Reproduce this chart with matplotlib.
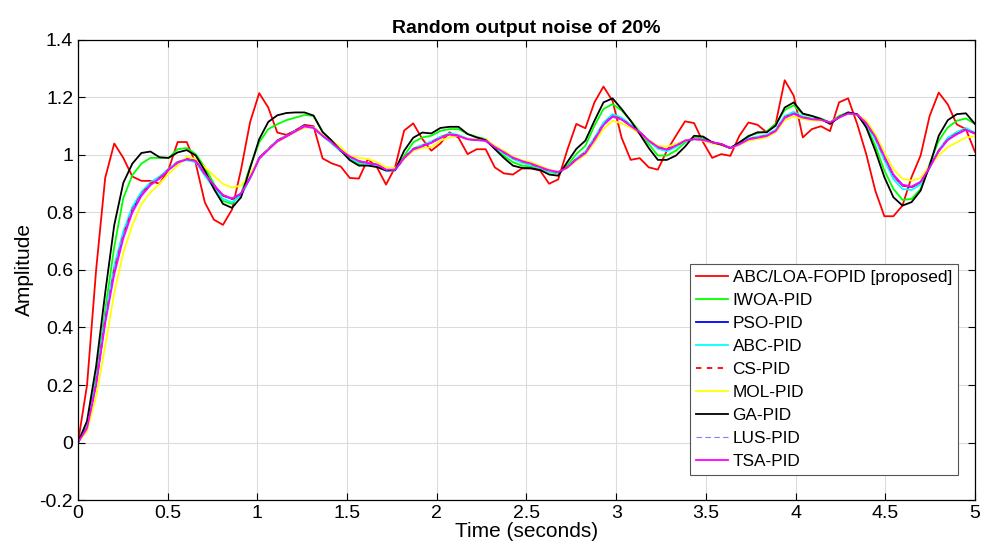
import numpy as np
import matplotlib
matplotlib.use("Agg")
import matplotlib.pyplot as plt

plt.rcParams['font.family'] = ['Liberation Sans', 'DejaVu Sans']

# ---------------- data (100 samples from 0 to 5 s) ----------------
t = np.linspace(0, 5, 100)

abc_loa_fopid = [0, 0.2, 0.6, 0.92, 1.04, 0.99, 0.925, 0.91, 0.91, 0.90,
                 0.95, 1.045, 1.045, 0.97, 0.835, 0.775, 0.757, 0.81, 0.95, 1.115,
                 1.215, 1.165, 1.078, 1.07, 1.085, 1.105, 1.1, 0.988, 0.971, 0.96,
                 0.92, 0.918, 0.986, 0.957, 0.897, 0.957, 1.085, 1.11, 1.056, 1.015,
                 1.04, 1.079, 1.06, 1.003, 1.02, 1.02, 0.957, 0.936, 0.932, 0.953,
                 0.953, 0.946, 0.90, 0.915, 1.017, 1.108, 1.093, 1.183, 1.238, 1.188,
                 1.06, 0.983, 0.989, 0.957, 0.949, 1.015, 1.067, 1.117, 1.111, 1.044,
                 0.99, 1.003, 0.997, 1.067, 1.113, 1.105, 1.079, 1.108, 1.26, 1.206,
                 1.061, 1.09, 1.1, 1.083, 1.183, 1.197, 1.108, 1.003, 0.876, 0.787,
                 0.787, 0.824, 0.923, 0.998, 1.136, 1.217, 1.176, 1.106, 1.09, 1.011]

iwoa_pid = [0, 0.058, 0.23, 0.46, 0.68, 0.85, 0.93, 0.97, 0.99, 0.99,
            0.99, 1.02, 1.024, 1.003, 0.957, 0.9, 0.84, 0.83, 0.865, 0.96,
            1.044, 1.09, 1.107, 1.121, 1.13, 1.139, 1.136, 1.079, 1.05, 1.017,
            0.985, 0.968, 0.966, 0.96, 0.946, 0.948, 0.997, 1.044, 1.061, 1.067,
            1.084, 1.09, 1.09, 1.073, 1.063, 1.055, 1.027, 0.997, 0.975, 0.963,
            0.96, 0.955, 0.94, 0.936, 0.963, 1.003, 1.032, 1.102, 1.16, 1.177,
            1.155, 1.12, 1.081, 1.038, 0.998, 0.998, 1.015, 1.044, 1.061, 1.058,
            1.044, 1.036, 1.024, 1.042, 1.067, 1.076, 1.081, 1.108, 1.156, 1.173,
            1.142, 1.135, 1.127, 1.113, 1.136, 1.148, 1.139, 1.102, 1.032, 0.946,
            0.882, 0.844, 0.847, 0.882, 0.969, 1.05, 1.096, 1.119, 1.127, 1.108]

pso_pid = [0, 0.052, 0.207, 0.427, 0.6, 0.72, 0.81, 0.865, 0.9, 0.92,
           0.95, 0.975, 0.986, 0.98, 0.934, 0.894, 0.859, 0.847, 0.865, 0.922,
           0.99, 1.021, 1.05, 1.067, 1.085, 1.102, 1.096, 1.067, 1.044, 1.015,
           0.994, 0.978, 0.971, 0.966, 0.948, 0.948, 0.99, 1.021, 1.032, 1.044,
           1.061, 1.073, 1.067, 1.055, 1.052, 1.05, 1.027, 1.009, 0.99, 0.978,
           0.969, 0.957, 0.946, 0.94, 0.957, 0.986, 1.009, 1.055, 1.108, 1.136,
           1.125, 1.102, 1.079, 1.05, 1.027, 1.018, 1.032, 1.05, 1.055, 1.052,
           1.044, 1.038, 1.024, 1.038, 1.055, 1.061, 1.067, 1.084, 1.131, 1.145,
           1.131, 1.125, 1.123, 1.113, 1.131, 1.145, 1.142, 1.11, 1.061, 0.992,
           0.928, 0.894, 0.888, 0.905, 0.957, 1.015, 1.055, 1.075, 1.09, 1.075]

abc_pid = [0, 0.056, 0.215, 0.44, 0.615, 0.735, 0.82, 0.872, 0.905, 0.925,
           0.952, 0.975, 0.982, 0.975, 0.928, 0.885, 0.848, 0.836, 0.858, 0.918,
           0.985, 1.02, 1.048, 1.066, 1.084, 1.1, 1.094, 1.065, 1.04, 1.012,
           0.99, 0.974, 0.967, 0.962, 0.945, 0.946, 0.99, 1.023, 1.035, 1.047,
           1.064, 1.075, 1.07, 1.057, 1.052, 1.05, 1.025, 1.005, 0.986, 0.973,
           0.965, 0.953, 0.942, 0.937, 0.957, 0.988, 1.012, 1.06, 1.113, 1.142,
           1.13, 1.105, 1.079, 1.048, 1.022, 1.013, 1.028, 1.049, 1.056, 1.053,
           1.044, 1.037, 1.024, 1.04, 1.058, 1.064, 1.07, 1.088, 1.136, 1.15,
           1.134, 1.127, 1.123, 1.112, 1.132, 1.146, 1.142, 1.108, 1.054, 0.982,
           0.916, 0.882, 0.878, 0.898, 0.955, 1.018, 1.06, 1.08, 1.094, 1.078]

cs_pid = pso_pid

mol_pid = [0, 0.04, 0.16, 0.335, 0.52, 0.66, 0.756, 0.83, 0.87, 0.9,
           0.935, 0.963, 0.994, 0.986, 0.957, 0.928, 0.9, 0.886, 0.894, 0.934,
           0.986, 1.02, 1.045, 1.063, 1.08, 1.095, 1.096, 1.07, 1.05, 1.027,
           0.997, 0.99, 0.986, 0.975, 0.957, 0.955, 0.986, 1.015, 1.024, 1.027,
           1.05, 1.061, 1.067, 1.055, 1.055, 1.055, 1.032, 1.015, 0.994, 0.982,
           0.975, 0.963, 0.949, 0.942, 0.954, 0.98, 1.001, 1.044, 1.09, 1.119,
           1.11, 1.096, 1.073, 1.052, 1.032, 1.029, 1.038, 1.05, 1.055, 1.05,
           1.04, 1.035, 1.024, 1.035, 1.05, 1.055, 1.061, 1.079, 1.121, 1.134,
           1.125, 1.12, 1.119, 1.113, 1.131, 1.145, 1.142, 1.119, 1.073, 1.009,
           0.951, 0.917, 0.911, 0.92, 0.963, 0.998, 1.027, 1.044, 1.061, 1.065]

ga_pid = [0, 0.075, 0.265, 0.52, 0.756, 0.903, 0.97, 1.007, 1.012, 0.992,
          0.99, 1.009, 1.017, 0.998, 0.946, 0.882, 0.83, 0.816, 0.853, 0.955,
          1.055, 1.115, 1.138, 1.146, 1.148, 1.148, 1.137, 1.08, 1.05, 1.016,
          0.982, 0.963, 0.963, 0.958, 0.946, 0.947, 1.015, 1.06, 1.078, 1.075,
          1.094, 1.098, 1.098, 1.073, 1.061, 1.052, 1.021, 0.99, 0.963, 0.955,
          0.954, 0.948, 0.932, 0.928, 0.975, 1.021, 1.05, 1.119, 1.183, 1.197,
          1.16, 1.119, 1.073, 1.024, 0.983, 0.983, 0.998, 1.029, 1.067, 1.064,
          1.044, 1.036, 1.024, 1.044, 1.065, 1.079, 1.079, 1.102, 1.165, 1.183,
          1.144, 1.136, 1.125, 1.108, 1.131, 1.148, 1.142, 1.096, 1.015, 0.923,
          0.853, 0.824, 0.836, 0.876, 0.963, 1.067, 1.121, 1.142, 1.145, 1.108]

lus_pid = pso_pid

tsa_pid = [0, 0.05, 0.2, 0.415, 0.585, 0.71, 0.8, 0.858, 0.895, 0.918,
           0.948, 0.973, 0.985, 0.979, 0.934, 0.895, 0.861, 0.849, 0.866, 0.92,
           0.987, 1.018, 1.047, 1.064, 1.082, 1.099, 1.094, 1.067, 1.044, 1.016,
           0.995, 0.979, 0.972, 0.967, 0.949, 0.949, 0.989, 1.019, 1.03, 1.042,
           1.059, 1.071, 1.066, 1.055, 1.052, 1.05, 1.028, 1.01, 0.991, 0.979,
           0.97, 0.958, 0.947, 0.941, 0.956, 0.984, 1.006, 1.052, 1.104, 1.133,
           1.123, 1.101, 1.079, 1.05, 1.028, 1.019, 1.033, 1.05, 1.055, 1.052,
           1.044, 1.038, 1.024, 1.037, 1.054, 1.06, 1.066, 1.083, 1.129, 1.143,
           1.13, 1.124, 1.122, 1.113, 1.13, 1.144, 1.141, 1.111, 1.063, 0.995,
           0.932, 0.897, 0.89, 0.907, 0.957, 1.013, 1.052, 1.072, 1.087, 1.074]

# ---------------- figure ----------------
fig = plt.figure(figsize=(9.86, 5.56), dpi=100)
ax = fig.add_axes([0.0791, 0.1007, 0.9097, 0.8274])

lw = 1.3
ax.plot(t, abc_loa_fopid, color='#FF0000', lw=lw, label='ABC/LOA-FOPID [proposed]')
ax.plot(t, iwoa_pid, color='#00FF00', lw=lw, label='IWOA-PID')
ax.plot(t, pso_pid, color='#0000FF', lw=lw, label='PSO-PID')
ax.plot(t, abc_pid, color='#00FFFF', lw=lw, label='ABC-PID')
ax.plot(t, cs_pid, color='#FF0000', lw=lw, ls=(0, (3, 3)), label='CS-PID')
ax.plot(t, mol_pid, color='#FFFF00', lw=lw, label='MOL-PID')
ax.plot(t, ga_pid, color='#000000', lw=lw, label='GA-PID')
ax.plot(t, lus_pid, color='#7F7FFF', lw=0.8, ls=(0, (5, 3)), label='LUS-PID')
ax.plot(t, tsa_pid, color='#FF00FF', lw=lw, label='TSA-PID')

ax.set_xlim(0, 5)
ax.set_ylim(-0.2, 1.4)
ax.set_xticks(np.arange(0, 5.01, 0.5))
ax.set_xticklabels(['0', '0.5', '1', '1.5', '2', '2.5', '3', '3.5', '4', '4.5', '5'])
ax.set_yticks(np.arange(-0.2, 1.41, 0.2))
ax.set_yticklabels(['-0.2', '0', '0.2', '0.4', '0.6', '0.8', '1', '1.2', '1.4'])
ax.tick_params(direction='in', top=True, right=True, labelsize=14, length=5, width=0.8)
ax.grid(True, color='#dcdcdc', lw=0.8)
for s in ax.spines.values():
    s.set_linewidth(0.9)

ax.set_title('Random output noise of 20%', fontsize=14, fontweight='bold', pad=5)
ax.set_xlabel('Time (seconds)', fontsize=15, labelpad=0)
ax.set_ylabel('Amplitude', fontsize=15, labelpad=4)

leg = ax.legend(loc='lower right', bbox_to_anchor=(0.981, 0.054), fontsize=12.4,
                frameon=True, fancybox=False, framealpha=1, edgecolor='#555555',
                borderaxespad=0, handlelength=1.85, handletextpad=0.25,
                labelspacing=0.46, borderpad=0.35)
leg.get_frame().set_linewidth(0.8)

fig.savefig('out.png', dpi=100)
